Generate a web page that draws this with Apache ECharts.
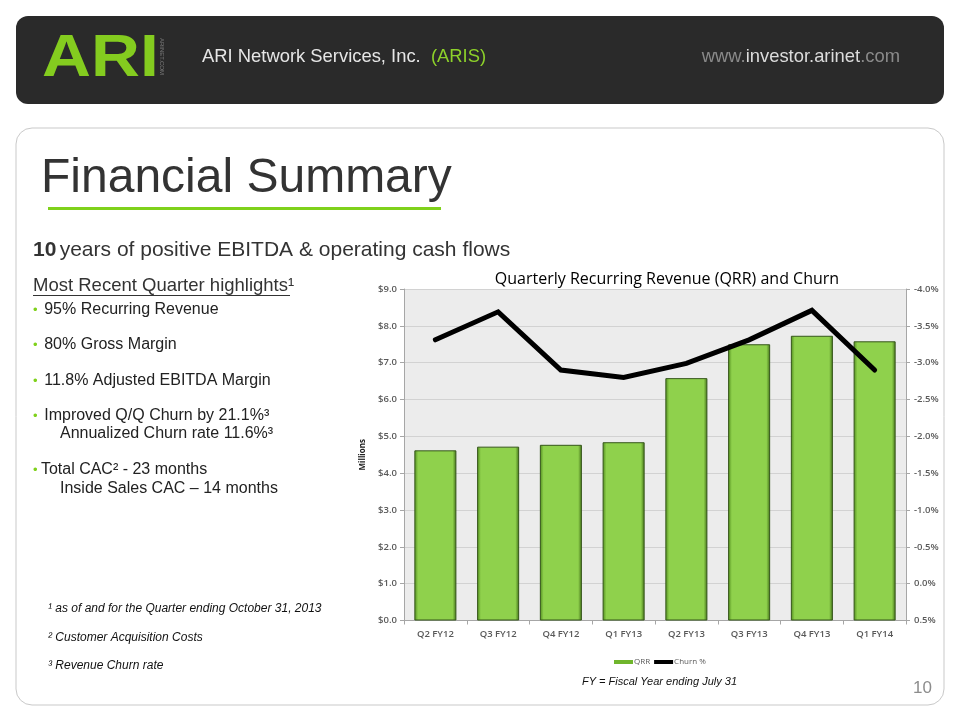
<!DOCTYPE html>
<html><head><meta charset="utf-8">
<script src="https://cdn.jsdelivr.net/npm/echarts@6/dist/echarts.min.js"></script>
<style>html,body{margin:0;padding:0;background:#fff}#c{width:960px;height:720px}</style>
</head><body><div id="c"></div>
<script>
const categories = ['Q2 FY12','Q3 FY12','Q4 FY12','Q1 FY13','Q2 FY13','Q3 FY13','Q4 FY13','Q1 FY14'];
const qrrMillions = [4.62, 4.72, 4.77, 4.84, 6.58, 7.50, 7.73, 7.58];
const churnPct = [-3.31, -3.69, -2.90, -2.80, -2.99, -3.31, -3.71, -2.90];
const seriesNames = ['QRR', 'Churn %'];
const chartTitle = 'Quarterly Recurring Revenue (QRR) and Churn';
const bullets = [
  '95% Recurring Revenue',
  '80% Gross Margin',
  '11.8% Adjusted EBITDA Margin',
  'Improved Q/Q Churn by 21.1%³'
];
const footnotes = [
  '¹ as of and for the Quarter ending October 31, 2013',
  '² Customer Acquisition Costs',
  '³ Revenue Churn rate'
];

const SANS = '"Liberation Sans", Arial, sans-serif';
const CHART_FONT = '"Open Sans", sans-serif';
const GREEN = '#7fd11b';

const chart = echarts.init(document.getElementById('c'), null, {renderer: 'canvas'});

const graphics = [
  // header bar
  {type: 'rect', shape: {x: 16, y: 16, width: 928, height: 88, r: 12}, style: {fill: '#2a2a2a'}, z: -10},
  {type: 'text', x: 42, y: 59, scaleX: 1.13, style: {text: 'ARI', font: 'bold 60px ' + SANS, fill: '#84cc1f', textVerticalAlign: 'middle'}},
  {type: 'text', x: 165, y: 38, rotation: -Math.PI / 2, style: {text: 'ARINET.COM', font: '6px ' + SANS, fill: '#7a7a7a', textVerticalAlign: 'top'}},
  {type: 'text', x: 202, y: 57, style: {
    text: '{a|ARI Network Services, Inc.  }{b|(ARIS)}',
    textVerticalAlign: 'middle',
    rich: {a: {font: '18.4px ' + SANS, fill: '#e6e6e6'}, b: {font: '18.4px ' + SANS, fill: '#8dd12a'}}
  }},
  {type: 'text', x: 900, y: 57, style: {
    text: '{g|www.}{w|investor.arinet}{g|.com}',
    textAlign: 'right', textVerticalAlign: 'middle',
    rich: {g: {font: '18.4px ' + SANS, fill: '#8a8a8a'}, w: {font: '18.4px ' + SANS, fill: '#dcdcdc'}}
  }},
  // content panel
  {type: 'rect', shape: {x: 16, y: 128, width: 928, height: 577, r: 16}, style: {fill: '#fff', stroke: '#c9c9c9', lineWidth: 1}, z: -10},
  {type: 'text', x: 41, y: 179, style: {text: 'Financial Summary', font: '48px ' + SANS, fill: '#333333', textVerticalAlign: 'middle'}},
  {type: 'rect', shape: {x: 48, y: 207, width: 393, height: 3}, style: {fill: GREEN}},
  {type: 'text', x: 33, y: 250, style: {
    text: '{b|10} {n|years of positive EBITDA & operating cash flows}',
    textVerticalAlign: 'middle',
    rich: {b: {font: 'bold 21px ' + SANS, fill: '#333'}, n: {font: '21px ' + SANS, fill: '#333'}}
  }},
  {type: 'text', x: 33, y: 286, style: {text: 'Most Recent Quarter highlights¹', font: '18.5px ' + SANS, fill: '#333', textVerticalAlign: 'middle'}},
  {type: 'rect', shape: {x: 33, y: 295, width: 257, height: 1}, style: {fill: '#333'}},
  {type: 'text', x: 60, y: 434, style: {text: 'Annualized Churn rate 11.6%³', font: '16px ' + SANS, fill: '#222', textVerticalAlign: 'middle'}},
  {type: 'text', x: 33, y: 470, style: {
    text: '{d|•} {n|Total CAC² - 23 months}', textVerticalAlign: 'middle',
    rich: {d: {font: '13px ' + SANS, fill: GREEN}, n: {font: '16px ' + SANS, fill: '#222'}}
  }},
  {type: 'text', x: 60, y: 489, style: {text: 'Inside Sales CAC – 14 months', font: '16px ' + SANS, fill: '#222', textVerticalAlign: 'middle'}},
  {type: 'text', x: 582, y: 682, style: {text: 'FY = Fiscal Year ending July 31', font: 'italic 11px ' + SANS, fill: '#111', textVerticalAlign: 'middle'}},
  {type: 'text', x: 932, y: 688, style: {text: '10', font: '17px ' + SANS, fill: '#8c8c8c', textAlign: 'right', textVerticalAlign: 'middle'}}
];
const bulletY = [310, 345, 381, 416];
bullets.forEach((b, i) => {
  graphics.push({type: 'text', x: 33, y: bulletY[i], style: {
    text: '{d|•}  {n|' + b + '}', textVerticalAlign: 'middle',
    rich: {d: {font: '13px ' + SANS, fill: GREEN}, n: {font: '16px ' + SANS, fill: '#222'}}
  }});
});
const footY = [609, 638, 666];
footnotes.forEach((f, i) => {
  graphics.push({type: 'text', x: 48, y: footY[i], style: {text: f, font: 'italic 12px ' + SANS, fill: '#111', textVerticalAlign: 'middle'}});
});

const axisLabelStyle = {fontFamily: CHART_FONT, fontSize: 9.5, color: '#595959', fontWeight: 600};

chart.setOption({
  animation: false,
  backgroundColor: '#ffffff',
  title: {
    text: chartTitle, left: 662, top: 266, textAlign: 'center',
    textStyle: {fontFamily: CHART_FONT, fontSize: 16, fontWeight: 'normal', color: '#000'}
  },
  legend: {
    data: [
      {name: 'QRR', icon: 'rect', itemStyle: {borderWidth: 0, color: '#6fb52c'}},
      {name: 'Churn %', icon: 'rect', itemStyle: {color: '#000'}}
    ],
    left: 609, top: 653, itemWidth: 19, itemHeight: 4, itemGap: 4,
    textStyle: {fontFamily: CHART_FONT, fontSize: 8, color: '#595959', padding: [0, 0, 0, -4]}
  },
  grid: {left: 404, right: 54, top: 289, bottom: 99.5, show: true, backgroundColor: '#ececec', borderWidth: 0},
  xAxis: {
    type: 'category', data: categories,
    axisLine: {lineStyle: {color: '#a6a6a6'}},
    axisTick: {show: true, length: 4, lineStyle: {color: '#a6a6a6'}},
    axisLabel: Object.assign({margin: 9}, axisLabelStyle)
  },
  yAxis: [
    {
      type: 'value', min: 0, max: 9, interval: 1,
      name: 'Millions', nameLocation: 'middle', nameGap: 27, nameRotate: 90,
      nameTextStyle: {fontFamily: CHART_FONT, fontSize: 8, fontWeight: 'bold', color: '#222'},
      axisLine: {show: true, lineStyle: {color: '#a6a6a6'}},
      axisTick: {show: true, length: 4, lineStyle: {color: '#a6a6a6'}},
      axisLabel: Object.assign({margin: 7, formatter: v => '$' + v.toFixed(1)}, axisLabelStyle),
      splitLine: {lineStyle: {color: '#d2d2d2', width: 1}}
    },
    {
      type: 'value', min: -4, max: 0.5, interval: 0.5, inverse: true, position: 'right',
      axisLine: {show: true, lineStyle: {color: '#a6a6a6'}},
      axisTick: {show: true, length: 4, lineStyle: {color: '#a6a6a6'}},
      axisLabel: Object.assign({margin: 8, formatter: v => (Math.abs(v) < 1e-9 ? 0 : v).toFixed(1) + '%'}, axisLabelStyle),
      splitLine: {show: false}
    }
  ],
  series: [
    {
      name: seriesNames[0], type: 'bar', data: qrrMillions, barWidth: '67%', yAxisIndex: 0,
      itemStyle: {
        color: new echarts.graphic.LinearGradient(0, 0, 1, 0, [
          {offset: 0, color: '#4f8a1c'}, {offset: 0.09, color: '#8fd14c'},
          {offset: 0.91, color: '#8fd14c'}, {offset: 1, color: '#426f18'}
        ]),
        borderColor: '#35561a', borderWidth: 1
      }
    },
    {
      name: seriesNames[1], type: 'line', data: churnPct, yAxisIndex: 1,
      symbol: 'none', lineStyle: {color: '#000', width: 5, cap: 'round', join: 'miter'},
      itemStyle: {color: '#000'}, z: 5
    }
  ],
  graphic: graphics
});
</script></body></html>
